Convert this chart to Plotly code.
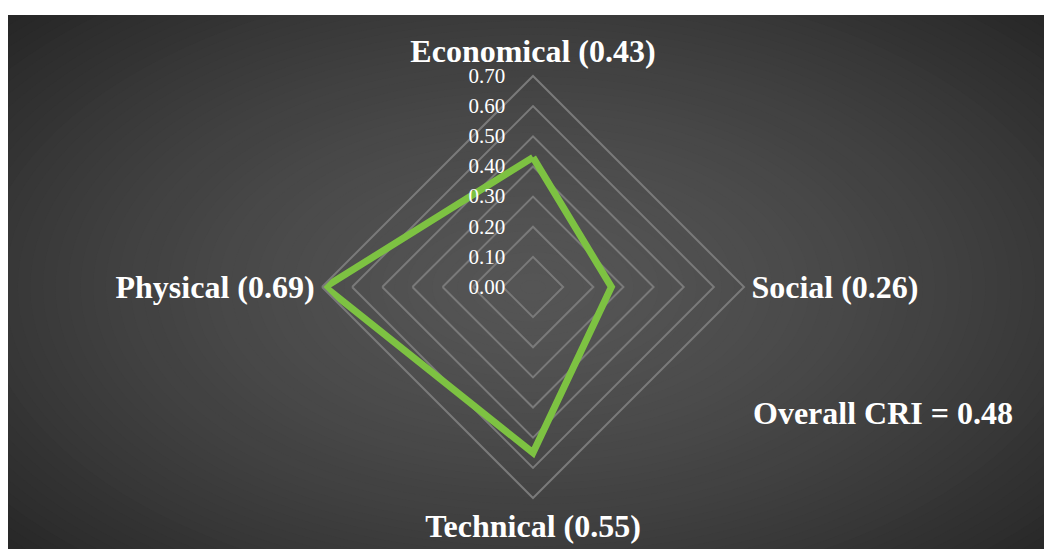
import plotly.graph_objects as go

# ---- data ----
categories = ["Economical", "Social", "Technical", "Physical"]
values = [0.43, 0.26, 0.55, 0.69]
radial_ticks = [0.0, 0.1, 0.2, 0.3, 0.4, 0.5, 0.6, 0.7]
overall_cri = round(sum(values) / len(values), 2)

W, H = 1044, 549
LINE_GREEN = "#7dc242"
GRID = "#7a7a7a"
FONT_B = dict(family="Liberation Serif, Times New Roman, serif", size=32, color="white", weight="bold")

labels = [f"{c} ({v:.2f})" for c, v in zip(categories, values)]

fig = go.Figure()
fig.add_trace(go.Scatterpolar(
    r=values + values[:1],
    theta=labels + labels[:1],
    mode="lines",
    line=dict(color=LINE_GREEN, width=7),
    hoverinfo="skip",
    showlegend=False,
))

# ---- background: radial gradient approximated by stacked ellipses ----
shapes = []
cx, cy = 533, 287
rx0, ry0 = 520, 290
N = 60
kmax = 1.45
for i in range(N):
    k = kmax * (1 - i / N)
    d = min(k / 1.41, 1.0)
    c = int(round(85 - 48 * d ** 1.5))
    col = f"rgb({c},{c},{c})"
    shapes.append(dict(
        type="circle", xref="paper", yref="paper", layer="below",
        x0=(cx - rx0 * k) / W, x1=(cx + rx0 * k) / W,
        y0=1 - (cy + ry0 * k) / H, y1=1 - (cy - ry0 * k) / H,
        fillcolor=col, line=dict(width=0),
    ))
# white margins (top and left)
shapes.append(dict(type="rect", xref="paper", yref="paper", layer="below",
                   x0=-0.5, x1=1.5, y0=1 - 15 / H, y1=1.5,
                   fillcolor="white", line=dict(width=0)))
shapes.append(dict(type="rect", xref="paper", yref="paper", layer="below",
                   x0=-0.5, x1=8 / W, y0=-0.5, y1=1.5,
                   fillcolor="white", line=dict(width=0)))

R = 211
fig.update_layout(
    width=W, height=H,
    margin=dict(l=0, r=0, t=0, b=0),
    paper_bgcolor="white",
    plot_bgcolor="rgba(0,0,0,0)",
    shapes=shapes,
    polar=dict(
        domain=dict(x=[(cx - R) / W, (cx + R) / W], y=[1 - (cy + R) / H, 1 - (cy - R) / H]),
        bgcolor="rgba(0,0,0,0)",
        gridshape="linear",
        radialaxis=dict(
            range=[0, 0.7],
            tickvals=radial_ticks,
            tickformat=".2f",
            angle=90,
            tickangle=90,
            side="counterclockwise",
            showline=False,
            ticks="outside",
            ticklen=20,
            tickcolor="rgba(0,0,0,0)",
            gridcolor=GRID,
            gridwidth=2,
            tickfont=dict(family="Liberation Serif, Times New Roman, serif", size=21, color="white"),
        ),
        angularaxis=dict(
            rotation=90,
            direction="clockwise",
            showgrid=False,
            showline=True,
            linecolor=GRID,
            linewidth=2,
            ticks="",
            tickfont=FONT_B,
        ),
    ),
    annotations=[dict(
        text=f"Overall CRI = {overall_cri:.2f}",
        xref="paper", yref="paper",
        x=883 / W, y=1 - 413 / H,
        xanchor="center", yanchor="middle",
        showarrow=False,
        font=FONT_B,
    )],
)

fig.write_html("out.html")
